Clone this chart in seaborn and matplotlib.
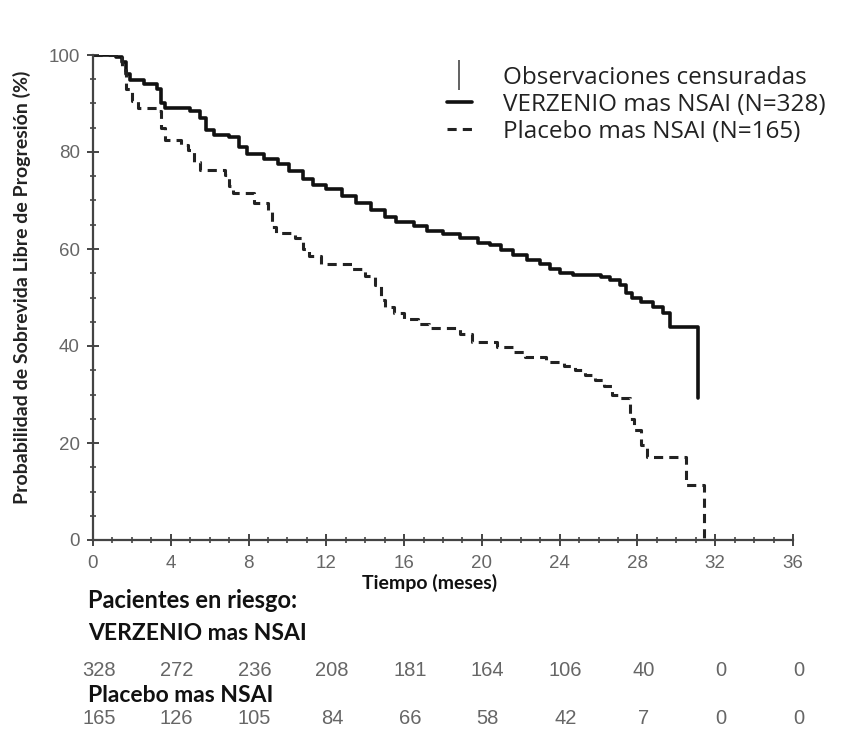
import numpy as np
import pandas as pd
import matplotlib
matplotlib.use("Agg")
import matplotlib.pyplot as plt
import seaborn as sns
from matplotlib.lines import Line2D
from matplotlib.ticker import MultipleLocator
import matplotlib.transforms as mtransforms

# ---- data ----
verz_t = [0, 1.2, 1.5, 1.7, 1.9, 2.6, 3.3, 3.5, 3.7, 5.0, 5.5, 5.8, 6.2, 7.0, 7.5, 7.9,
          8.8, 9.5, 10.1, 10.8, 11.3, 12.0, 12.8, 13.5, 14.3, 15.0, 15.6, 16.5, 17.2,
          18.0, 18.9, 19.8, 20.4, 21.0, 21.6, 22.3, 23.0, 23.5, 24.0, 24.7, 26.1, 26.6,
          27.1, 27.4, 27.7, 28.2, 28.8, 29.3, 29.7, 31.1]
verz_s = [100, 99.5, 98.5, 96, 94.8, 94, 93, 90, 89, 88.5, 87, 84.5, 83.5, 83, 81, 79.5,
          78.5, 77.5, 76, 74.5, 73.2, 72.3, 71, 69.5, 68, 66.5, 65.6, 64.7, 63.8,
          63, 62.3, 61.3, 60.8, 59.8, 58.7, 57.8, 57, 55.8, 55, 54.6, 54.3, 53.6,
          52.5, 51, 50, 49, 48, 46.8, 44, 29.3]

plac_t = [0, 1.5, 1.7, 2.0, 2.3, 3.4, 3.5, 3.7, 4.5, 4.9, 5.2, 5.5, 6.8, 7.0, 7.2, 8.3,
          9.0, 9.2, 9.4, 10.4, 10.8, 11.1, 11.7, 13.3, 14.0, 14.5, 14.8, 15.0, 15.5,
          16.0, 16.7, 17.3, 18.9, 19.5, 20.8, 21.6, 22.2, 23.3, 24.2, 24.8, 25.3, 25.8,
          26.3, 26.7, 27.1, 27.6, 27.8, 28.2, 28.5, 30.5, 31.4]
plac_s = [100, 97, 93, 90.5, 89, 88.5, 85, 82.5, 81.5, 80.5, 78, 76.3, 75.3, 73, 71.5, 69.5,
          68, 64.5, 63.3, 62.3, 60, 58.5, 57, 55.8, 54.5, 52.5, 49.5, 48, 46.8,
          45.5, 44.5, 43.7, 42.5, 40.8, 39.8, 38.8, 37.8, 36.7, 35.8, 35, 34, 33,
          31.7, 30, 29.2, 25, 22.7, 19.5, 17.1, 11.3, 0]

risk_times = [0, 4, 8, 12, 16, 20, 24, 28, 32, 36]
risk_verz = [328, 272, 236, 208, 181, 164, 106, 40, 0, 0]
risk_plac = [165, 126, 105, 84, 66, 58, 42, 7, 0, 0]

legend_labels = ["Observaciones censuradas",
                 "VERZENIO mas NSAI (N=328)",
                 "Placebo mas NSAI (N=165)"]
ylabel = "Probabilidad de Sobrevida Libre de Progresión (%)"
xlabel = "Tiempo (meses)"

# ---- figure ----
sns.set_theme(style="ticks")
plt.rcParams["font.family"] = ["Liberation Sans", "DejaVu Sans"]

fig = plt.figure(figsize=(8.41, 7.32), dpi=100)
ax = fig.add_axes([93 / 841, 1 - 540 / 732, (793 - 93) / 841, (540 - 55) / 732])

df_v = pd.DataFrame({"t": verz_t, "s": verz_s})
df_p = pd.DataFrame({"t": plac_t, "s": plac_s})
sns.lineplot(data=df_v, x="t", y="s", ax=ax, estimator=None, sort=False,
             drawstyle="steps-post", color="#111111", linewidth=2.6)
sns.lineplot(data=df_p, x="t", y="s", ax=ax, estimator=None, sort=False,
             drawstyle="steps-post", color="#222222", linewidth=2.2,
             linestyle=(0, (3, 2)))

ax.set_xlim(0, 36)
ax.set_ylim(0, 100)
sns.despine(ax=ax)
for sp in ["left", "bottom"]:
    ax.spines[sp].set_color("#444444")
    ax.spines[sp].set_linewidth(1.6)

ax.xaxis.set_major_locator(MultipleLocator(4))
ax.xaxis.set_minor_locator(MultipleLocator(1))
ax.yaxis.set_major_locator(MultipleLocator(20))
ax.yaxis.set_minor_locator(MultipleLocator(5))
ax.tick_params(which="major", direction="inout", length=9, width=1.4, color="#444444",
               labelsize=13.5, labelcolor="#666666", pad=5)
ax.tick_params(which="minor", direction="inout", length=5, width=1.2, color="#444444")
ax.tick_params(axis="x", which="major", pad=6)

ax.set_xlabel("")
ax.set_ylabel("")
fig.text(22 / 841, 1 - 287 / 732, ylabel, rotation=90, ha="center", va="center",
         fontsize=14, fontweight="bold", color="#222222", family=["Lato", "DejaVu Sans"])
fig.text(430 / 841, 1 - 583 / 732, xlabel, ha="center", va="center",
         fontsize=14, fontweight="bold", color="#111111", family=["Lato", "DejaVu Sans"])

handles = [Line2D([], [], color="#555555", marker="|", markersize=22, linestyle="none",
                  markeredgewidth=1.3),
           Line2D([], [], color="#111111", linewidth=2.6),
           Line2D([], [], color="#222222", linewidth=2.2, linestyle=(0, (3, 2)))]
leg = ax.legend(handles, legend_labels, loc="upper left",
                bbox_to_anchor=(437 / 841, 1 - 56 / 732), bbox_transform=fig.transFigure,
                frameon=False, handlelength=1.05, handletextpad=1.28, labelspacing=0.12,
                borderaxespad=0, borderpad=0.4,
                prop={"family": ["Open Sans", "DejaVu Sans"], "size": 17.5})
for txt in leg.get_texts():
    txt.set_color("#222222")

# ---- numbers at risk ----
trans = mtransforms.blended_transform_factory(ax.transData, fig.transFigure)
bold_font = {"family": ["Lato", "DejaVu Sans"], "fontweight": "bold", "color": "#111111"}
fig.text(88 / 841, 1 - 600 / 732, "Pacientes en riesgo:", ha="left", va="center",
         fontsize=17, **bold_font)
fig.text(88 / 841, 1 - 633 / 732, "VERZENIO mas NSAI", ha="left", va="center",
         fontsize=16.5, **bold_font)
fig.text(88 / 841, 1 - 695 / 732, "Placebo mas NSAI", ha="left", va="center",
         fontsize=16.5, **bold_font)
num_font = {"family": ["Liberation Sans Narrow", "Liberation Sans", "DejaVu Sans"],
            "color": "#666666", "fontsize": 14.5}
for t, v, p in zip(risk_times, risk_verz, risk_plac):
    ax.text(t + 0.3, 1 - 670 / 732, str(v), transform=trans, ha="center", va="center",
            **num_font)
    ax.text(t + 0.3, 1 - 719 / 732, str(p), transform=trans, ha="center", va="center",
            **num_font)

fig.savefig("out.png", dpi=100, facecolor="white")
